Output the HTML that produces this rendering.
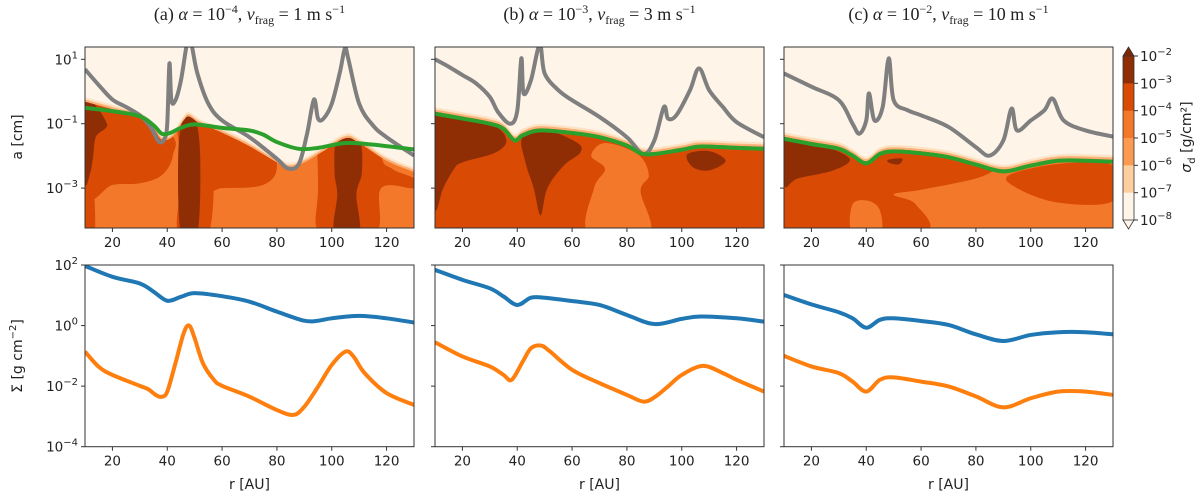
<!DOCTYPE html>
<html><head><meta charset="utf-8">
<style>
html,body{margin:0;padding:0;background:#fff;}
svg{display:block;}
text{font-family:"DejaVu Sans","Liberation Sans",sans-serif;fill:#222;}
.title{font-family:"Liberation Serif","DejaVu Serif",serif;font-size:18px;}
</style></head>
<body>
<svg id="fig" width="1200" height="497" viewBox="0 0 1200 497" xmlns="http://www.w3.org/2000/svg">
<defs id="defs"></defs>
</svg>
<script>
// ---------- data ----------
const xTicks = [20,40,60,80,100,120];
const topYTicks = [1,-1,-3];
const botYTicks = [2,0,-2,-4];
const cbLevels = [-2,-3,-4,-5,-6,-7,-8];
const cbColors = ["#8f2e05","#d94a04","#f3782a","#fb9a50","#fdcf9f","#fff4e8"];

// Panel (a)
const gray1R = [10,15,20,25,30,33,35,37,39,40,40.8,41.5,43,45,47,48,49,51,55,60,70,80,84,88,91,93.5,95,97,100,103,104.8,106,110,115,120,130];
const gray1V = [0.69,0.20,-0.25,-0.48,-0.74,-1.0,-1.26,-1.57,-1.47,-1.0,0.87,-0.27,-0.27,0.35,1.4,1.6,1.4,0.56,-0.38,-0.90,-1.42,-2.09,-2.39,-2.25,-1.31,-0.25,-0.84,-0.84,-0.38,0.61,1.34,1.03,-0.38,-1.05,-1.42,-1.99];
const green1R = [10,20,30,35,38,41,45,50,60,70,75,80,88,95,105,115,130];
const green1V = [-0.51,-0.61,-0.77,-1.05,-1.31,-1.29,-1.13,-1.02,-1.13,-1.21,-1.34,-1.57,-1.78,-1.75,-1.60,-1.65,-1.80];
const edge1R = [10,20,30,35,38,42,46,48,52,60,70,80,85,90,97,105,110,120,130];
const edge1V = [-0.32,-0.55,-0.78,-1.15,-1.5,-1.4,-0.9,-0.78,-1.0,-1.28,-1.7,-2.2,-2.35,-2.2,-1.85,-1.45,-1.6,-2.15,-2.5];
const blue1R = [10,20,30,35,40,45,50,60,70,80,90,95,100,110,120,130];
const blue1V = [1.97,1.61,1.39,1.12,0.82,0.95,1.07,0.97,0.79,0.46,0.16,0.16,0.24,0.32,0.24,0.10];
const orange1R = [10,15,20,30,33,36,38,40,43,46,48,50,53,57,60,70,80,86,90,95,100,105,108,112,120,130];
const orange1V = [-0.86,-1.36,-1.63,-1.99,-2.1,-2.3,-2.35,-2.18,-1.24,-0.25,0.0,-0.42,-1.24,-1.79,-1.99,-2.35,-2.79,-2.95,-2.68,-2.02,-1.3,-0.86,-1.03,-1.57,-2.23,-2.62];

// Panel (b)
const gray2R = [10,15,20,25,30,33,37.4,40,41.5,42.3,45,48.2,50,55,60,70,80,86,90,93.5,95,98,103,106.3,110,115,120,130];
const gray2V = [1.0,0.77,0.51,0.25,-0.17,-0.64,-1.0,-0.6,1.03,-0.06,0.35,1.45,0.56,0.04,-0.27,-0.79,-1.42,-1.94,-1.52,-0.48,-0.84,-0.74,0.04,0.72,0.04,-0.48,-0.95,-1.42];
const green2R = [10,20,30,35,39,42,48,60,70,80,85,90,100,107,120,130];
const green2V = [-0.69,-0.84,-1.0,-1.16,-1.52,-1.36,-1.21,-1.29,-1.42,-1.68,-1.92,-1.94,-1.81,-1.71,-1.75,-1.78];
const blue2R = [10,20,30,35,40,45,50,60,70,80,90,100,107,120,130];
const blue2V = [1.84,1.51,1.23,0.96,0.68,0.92,0.92,0.81,0.68,0.35,0.05,0.22,0.30,0.24,0.13];
const orange2R = [10,20,30,35,38,42,45,48.7,52,60,70,80,86,90,95,100,107.7,115,120,130];
const orange2V = [-0.55,-1.02,-1.35,-1.63,-1.79,-1.19,-0.75,-0.66,-0.86,-1.46,-1.90,-2.29,-2.51,-2.37,-2.01,-1.63,-1.33,-1.57,-1.79,-2.18];

// Panel (c)
const gray3R = [10,20,30,35,37.5,40,41,43,46,48.2,50,55,60,70,80,85,90,93,95,100,105,108,112,120,130];
const gray3V = [0.56,0.15,-0.27,-1.0,-1.31,-0.9,-0.06,-0.9,-0.48,1.03,-0.27,-0.58,-0.74,-1.1,-1.73,-1.99,-1.52,-0.53,-1.21,-0.9,-0.58,-0.22,-0.90,-1.21,-1.40];
const green3R = [10,20,30,35,40,45,50,60,70,80,90,100,110,120,130];
const green3V = [-1.47,-1.63,-1.78,-1.99,-2.23,-1.94,-1.86,-1.92,-2.04,-2.27,-2.48,-2.30,-2.15,-2.15,-2.18];
const blue3R = [10,20,30,35,40,45,50,60,70,80,90,100,110,120,130];
const blue3V = [1.01,0.70,0.44,0.24,-0.07,0.19,0.24,0.15,0.02,-0.29,-0.51,-0.31,-0.22,-0.22,-0.29];
const orange3R = [10,20,30,35,40,45,50,60,70,80,90,100,110,120,130];
const orange3V = [-1.0,-1.35,-1.57,-1.85,-2.18,-1.79,-1.71,-1.85,-2.01,-2.34,-2.70,-2.40,-2.18,-2.18,-2.29];

// contour regions (r, log a) outlines
const p1Mid = [[[10,0.5],[40,-1.2],[42,-2.0],[38,-2.6],[30,-2.85],[20,-2.9],[10,-3.2]],
  [[10,-3],[13,-3],[13.5,-4.4],[10,-4.4]],
  [[43,0.5],[55,0.5],[57,-2],[55,-4.4],[44,-4.4],[45,-2.5]],
  [[50,0.5],[75,-1],[80,-2.3],[75,-2.9],[60,-3.0],[50,-3.0]],
  [[97,0.5],[118,0.5],[118,-1.9],[122,-2.4],[130,-2.7],[130,-3.0],[118,-3.0],[116,-4.4],[96,-4.4],[95,-3]]];
const p1Dark = [[[10,-0.3],[18,-1.0],[14,-1.4],[13,-2.0],[12,-2.5],[10,-2.8]],
  [[46,-0.8],[50,-0.8],[52,-2],[51,-4.4],[45,-4.4],[44,-2]],
  [[102,-1.5],[110,-1.5],[111,-2.5],[109,-3.2],[110,-4.4],[101,-4.4],[102,-3.2],[101,-2.5]]];
const p2Light = [[[72,-1.6],[84,-1.95],[88,-2.6],[85,-3.1],[88,-4.4],[66,-4.4],[68,-3.0],[72,-2.4],[67,-2.0]]];
const p2Dark = [[[10,-0.7],[30,-1.0],[36,-1.5],[32,-1.9],[20,-2.2],[17,-2.4],[13,-3],[10,-3.6]],
  [[42,-1.4],[52,-1.25],[62,-1.6],[63,-1.9],[57,-2.3],[51,-3.0],[48.5,-3.85],[46,-3.0],[43,-2.2]],
  [[102,-1.95],[110,-1.85],[116,-2.15],[110,-2.45],[104,-2.35]]];
const p3Mid = [[[10,-1],[85,-2.2],[87,-2.4],[80,-2.7],[60,-3.05],[50,-3.2],[58,-3.5],[60,-4.4],[10,-4.4]],
  [[92,-2.6],[110,-2.25],[130,-2.3],[130,-3.4],[110,-3.45],[95,-3.0]]];
const p3Light = [[[35,-3.5],[41,-3.4],[45,-3.7],[45,-4.4],[35,-4.4]]];
const p3Dark = [[[10,-1.3],[25,-1.7],[34,-2.1],[28,-2.45],[15,-2.7],[10,-2.9]],
  [[48,-2.12],[53,-2.08],[52,-2.26],[48.5,-2.22]]];

// ---------- geometry ----------
const NS = "http://www.w3.org/2000/svg";
const svg = document.getElementById('fig');
const defs = document.getElementById('defs');
const lefts = [85,435,784];
const PW = 329;
const TOP = {y0:47, y1:228, ref:59.3, per:32.2};
const BOT = {y0:265, y1:446.7};
function xS(i,r){return lefts[i] + (r-10)/120*PW;}
function yT(v){return TOP.ref - (v-1)*TOP.per;}
function yB(v){return BOT.y0 + (2-v)/6*(BOT.y1-BOT.y0);}
function el(tag, attrs, parent){const e=document.createElementNS(NS,tag);for(const k in attrs)e.setAttribute(k,attrs[k]);(parent||svg).appendChild(e);return e;}
function smooth(pts){
  let d=`M${pts[0][0].toFixed(2)},${pts[0][1].toFixed(2)}`;
  for(let i=0;i<pts.length-1;i++){
    const p0=pts[i-1]||pts[i],p1=pts[i],p2=pts[i+1],p3=pts[i+2]||p2;
    const c1=[p1[0]+(p2[0]-p0[0])/6,p1[1]+(p2[1]-p0[1])/6];
    const c2=[p2[0]-(p3[0]-p1[0])/6,p2[1]-(p3[1]-p1[1])/6];
    d+=` C${c1[0].toFixed(2)},${c1[1].toFixed(2)} ${c2[0].toFixed(2)},${c2[1].toFixed(2)} ${p2[0].toFixed(2)},${p2[1].toFixed(2)}`;
  }
  return d;
}
function smoothClosed(pts){
  const n=pts.length;
  let d=`M${pts[0][0].toFixed(2)},${pts[0][1].toFixed(2)}`;
  for(let i=0;i<n;i++){
    const p0=pts[(i-1+n)%n],p1=pts[i],p2=pts[(i+1)%n],p3=pts[(i+2)%n];
    const c1=[p1[0]+(p2[0]-p0[0])/6,p1[1]+(p2[1]-p0[1])/6];
    const c2=[p2[0]-(p3[0]-p1[0])/6,p2[1]-(p3[1]-p1[1])/6];
    d+=` C${c1[0].toFixed(2)},${c1[1].toFixed(2)} ${c2[0].toFixed(2)},${c2[1].toFixed(2)} ${p2[0].toFixed(2)},${p2[1].toFixed(2)}`;
  }
  return d+'Z';
}
function belowPath(i,R,V,off){
  const pts=R.map((r,k)=>[xS(i,r),yT(V[k]+off)]);
  return smooth(pts)+` L${xS(i,130)+2},${TOP.y1+2} L${xS(i,10)-2},${TOP.y1+2} Z`;
}

const titles = [
  ['(a) ','10','−4','1'],['(b) ','10','−3','3'],['(c) ','10','−2','10']
];
const panels = [
  {gR:gray1R,gV:gray1V,grR:green1R,grV:green1V,eR:edge1R,eV:edge1V,eOff:0,base:"#f3782a",mid:p1Mid,light:[],dark:p1Dark,bR:blue1R,bV:blue1V,oR:orange1R,oV:orange1V},
  {gR:gray2R,gV:gray2V,grR:green2R,grV:green2V,eR:green2R,eV:green2V,eOff:0.06,base:"#d94a04",mid:[],light:p2Light,dark:p2Dark,bR:blue2R,bV:blue2V,oR:orange2R,oV:orange2V},
  {gR:gray3R,gV:gray3V,grR:green3R,grV:green3V,eR:green3R,eV:green3V,eOff:0.06,base:"#f3782a",mid:p3Mid,light:p3Light,dark:p3Dark,bR:blue3R,bV:blue3V,oR:orange3R,oV:orange3V}
];

panels.forEach((P,i)=>{
  const x0=lefts[i], x1=x0+PW;
  const t=el('text',{x:x0+PW/2,y:20,'text-anchor':'middle',class:'title'});
  
  
  t.innerHTML=`${titles[i][0]}<tspan font-style="italic">α</tspan> = 10<tspan dy="-7" font-size="12">${titles[i][2]}</tspan><tspan dy="7">, </tspan><tspan font-style="italic">v</tspan><tspan dy="4" font-size="12">frag</tspan><tspan dy="-4"> = ${titles[i][3]} m s</tspan><tspan dy="-7" font-size="12">−1</tspan>`;

  const cp=el('clipPath',{id:'clipT'+i},defs);
  el('rect',{x:x0,y:TOP.y0,width:PW,height:TOP.y1-TOP.y0},cp);
  const ce=el('clipPath',{id:'clipE'+i},defs);
  el('path',{d:belowPath(i,P.eR,P.eV,P.eOff)},ce);
  const cb=el('clipPath',{id:'clipB'+i},defs);
  el('rect',{x:x0,y:BOT.y0,width:PW,height:BOT.y1-BOT.y0},cb);

  const gT=el('g',{'clip-path':`url(#clipT${i})`});
  
  
  el('rect',{x:x0,y:TOP.y0,width:PW,height:TOP.y1-TOP.y0,fill:'#fff4e8'},gT);
  const halo2=el('path',{d:belowPath(i,P.eR,P.eV,P.eOff+0.14),fill:'#fde2c4'},gT);
  
  
  const halo1=el('path',{d:belowPath(i,P.eR,P.eV,P.eOff+0.07),fill:'#fbb077'},gT);
  
  
  const gE=el('g',{'clip-path':`url(#clipE${i})`},gT);
  el('rect',{x:x0,y:TOP.y0,width:PW,height:TOP.y1-TOP.y0,fill:P.base},gE);
  P.mid.forEach(b=>{const p=el('path',{d:smoothClosed(b.map(q=>[xS(i,q[0]),yT(q[1])])),fill:'#d94a04'},gE);
    });
  P.light.forEach(b=>{const p=el('path',{d:smoothClosed(b.map(q=>[xS(i,q[0]),yT(q[1])])),fill:'#f3782a'},gE);
    });
  P.dark.forEach(b=>{const p=el('path',{d:smoothClosed(b.map(q=>[xS(i,q[0]),yT(q[1])])),fill:'#8f2e05'},gE);
    });
  const gl=el('path',{d:smooth(P.gR.map((r,k)=>[xS(i,r),yT(P.gV[k])])),fill:'none',stroke:'#7f7f7f','stroke-width':4,'stroke-linejoin':'round'},gT);
  
  
  const gr=el('path',{d:smooth(P.grR.map((r,k)=>[xS(i,r),yT(P.grV[k])])),fill:'none',stroke:'#2ca02c','stroke-width':4,'stroke-linejoin':'round'},gT);
  
  
  const fr=el('rect',{x:x0,y:TOP.y0,width:PW,height:TOP.y1-TOP.y0,fill:'none',stroke:'#333','stroke-width':1});
  
  

  const gB=el('g',{'clip-path':`url(#clipB${i})`});
  
  
  const bl=el('path',{d:smooth(P.bR.map((r,k)=>[xS(i,r),yB(P.bV[k])])),fill:'none',stroke:'#1f77b4','stroke-width':4},gB);
  
  
  const ol=el('path',{d:smooth(P.oR.map((r,k)=>[xS(i,r),yB(P.oV[k])])),fill:'none',stroke:'#ff7f0e','stroke-width':4},gB);
  
  
  const fb=el('rect',{x:x0,y:BOT.y0,width:PW,height:BOT.y1-BOT.y0,fill:'none',stroke:'#333','stroke-width':1});
  
  

  xTicks.forEach(v=>{
    const x=xS(i,v);
    [TOP.y1,BOT.y1].forEach((yy,j)=>{
      el('line',{x1:x,x2:x,y1:yy,y2:yy+4,stroke:'#333'});
      const tl=el('text',{x:x,y:yy+19,'text-anchor':'middle','font-size':13.5});
      
      
      tl.textContent=v;
    });
  });
  const xl=el('text',{x:x0+PW/2,y:489,'text-anchor':'middle','font-size':14});
  
  
  xl.textContent='r [AU]';

  topYTicks.forEach(v=>{
    const y=yT(v);
    el('line',{x1:x0-4,x2:x0,y1:y,y2:y,stroke:'#333'});
    if(i===0){
      const tl=el('text',{x:x0-7,y:y+5,'text-anchor':'end','font-size':13.5});
      
      
      tl.innerHTML=`10<tspan dy="-6" font-size="10">${v<0?'−'+(-v):v}</tspan>`;
    }
  });
  botYTicks.forEach(v=>{
    const y=yB(v);
    el('line',{x1:x0-4,x2:x0,y1:y,y2:y,stroke:'#333'});
    if(i===0){
      const tl=el('text',{x:x0-7,y:y+5,'text-anchor':'end','font-size':13.5});
      
      
      tl.innerHTML=`10<tspan dy="-6" font-size="10">${v<0?'−'+(-v):v}</tspan>`;
    }
  });
});

const ya=el('text',{x:0,y:0,transform:'translate(22,137) rotate(-90)','text-anchor':'middle','font-size':14});


ya.textContent='a [cm]';
const yb=el('text',{x:0,y:0,transform:'translate(22,356) rotate(-90)','text-anchor':'middle','font-size':14});


yb.innerHTML='Σ [g cm<tspan dy="-6" font-size="10">−2</tspan><tspan dy="6">]</tspan>';

const cbX=1123, cbW=11, cbTop=56, cbBot=220;
const cbStep=(cbBot-cbTop)/6;
const cbG=el('g',{});


cbColors.forEach((c,k)=>{el('rect',{x:cbX,y:cbTop+k*cbStep,width:cbW,height:cbStep+0.5,fill:c},cbG);});
el('path',{d:`M${cbX},${cbTop} L${cbX+cbW/2},${cbTop-9} L${cbX+cbW},${cbTop} Z`,fill:'#7f2704',stroke:'#333','stroke-width':0.8},cbG);
el('path',{d:`M${cbX},${cbBot} L${cbX+cbW/2},${cbBot+9} L${cbX+cbW},${cbBot} Z`,fill:'#fff5eb',stroke:'#333','stroke-width':0.8},cbG);
el('path',{d:`M${cbX},${cbTop} L${cbX},${cbBot} M${cbX+cbW},${cbTop} L${cbX+cbW},${cbBot}`,stroke:'#333','stroke-width':0.8,fill:'none'},cbG);
cbLevels.forEach((v,k)=>{
  const y=cbTop+k*cbStep;
  el('line',{x1:cbX+cbW,x2:cbX+cbW+4,y1:y,y2:y,stroke:'#333'},cbG);
  const tl=el('text',{x:cbX+cbW+6,y:y+5,'font-size':13.5},cbG);
  
  
  tl.innerHTML=`10<tspan dy="-6" font-size="10">−${-v}</tspan>`;
});
const cl=el('text',{x:0,y:0,transform:'translate(1191,137) rotate(-90)','text-anchor':'middle','font-size':14});


cl.innerHTML='<tspan font-style="italic">σ</tspan><tspan dy="4" font-size="10">d</tspan><tspan dy="-4"> [g/cm²]</tspan>';
</script>
</body></html>
